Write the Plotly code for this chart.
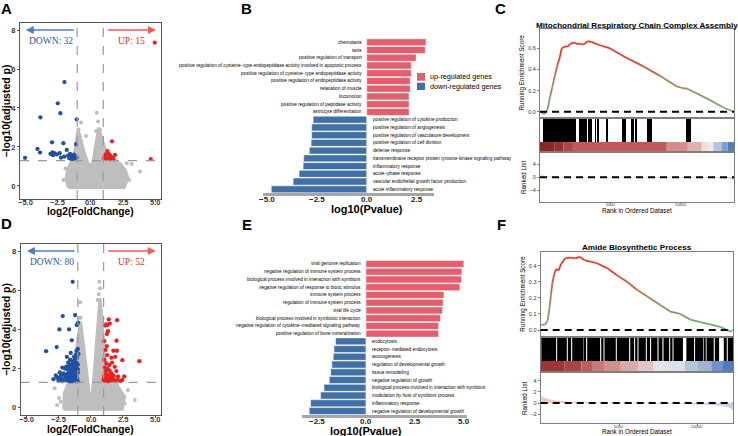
import plotly.graph_objects as go

W, H = 738, 436
FONT = "Liberation Sans, Arial, sans-serif"
SERIF = "Liberation Serif, Times New Roman, serif"

# ---------------- Panel A : volcano ----------------
A_cloud_x = [-1.7, -1.85, -1.75, -1.45, -1.2, -1.05, -0.95, -0.8, -0.5, -0.2, 0.0, 0.2, 0.4, 0.55, 0.65, 0.85, 1.0, 1.25, 1.8, 2.3, 2.7, 2.9, 2.6, -1.7]
A_cloud_y = [-0.08, 0.4, 0.8, 1.3, 1.7, 2.35, 2.85, 2.6, 1.8, 1.2, 1.0, 1.2, 1.9, 2.6, 3.0, 2.5, 2.2, 1.7, 1.35, 1.15, 0.8, 0.4, -0.08, -0.08]
A_gray_x = [0.5, 0.45, 0.75, -0.32, -0.7, 3.82, 2.8, 3.18, 2.34, 2.03, -2.06, -1.9, 0.6, -0.9, 3.0]
A_gray_y = [3.76, 2.82, 2.87, 2.56, 3.26, 0.74, 1.16, 1.13, 0.65, 0.39, 0.31, 0.9, 3.3, 2.9, 0.3]
A_down_x = [-1.98, -2.49, -2.29, -3.82, -1.04, -2.93, -2.06, -1.09, -4.05, -3.85, -5.0, -2.9, -2.75, -2.55, -2.35, -3.05,
            -2.85, -2.25, -1.8, -1.55, -1.5, -1.45, -1.35, -1.3, -1.25, -1.15, -1.6, -1.4, -2.0, -1.2, -1.05, -1.7]
A_down_y = [5.33, 4.24, 3.73, 3.52, 3.42, 2.24, 2.19, 2.15, 1.90, 1.71, 1.44, 1.72, 1.68, 1.62, 1.68, 1.65,
            1.58, 1.45, 1.85, 1.65, 1.5, 1.45, 1.52, 1.42, 1.6, 1.48, 1.42, 1.38, 1.5, 1.38, 1.45, 1.55]
A_up_x = [4.95, 1.67, 4.64, 1.19, 1.39, 1.52, 1.9, 1.06, 1.27, 1.57, 1.78, 1.14, 1.32, 1.7, 1.47]
A_up_y = [7.35, 2.29, 1.38, 1.62, 1.67, 1.57, 1.59, 1.42, 1.40, 1.37, 1.37, 1.54, 1.79, 1.47, 1.47]
A_counts = ["DOWN: 32", "UP: 15"]

# ---------------- Panel D : volcano ----------------
D_cloud_x = [-2.1, -2.05, -1.76, -1.37, -1.11, -0.98, -0.9, -0.8, -0.6, -0.34, -0.16, -0.04, 0.08, 0.2, 0.31, 0.46, 0.57, 0.64, 0.72, 0.82, 0.95, 1.03, 1.21, 1.86, 2.12, 2.63, 2.45, -2.1]
D_cloud_y = [-0.08, 0.73, 1.24, 2.1, 2.94, 3.62, 4.1, 4.4, 3.45, 2.1, 1.07, 0.25, 0.4, 1.2, 2.1, 3.45, 4.47, 5.3, 5.6, 4.9, 3.8, 2.94, 2.1, 1.58, 1.07, 0.56, -0.08, -0.08]
D_gray_x = [0.67, 0.72, 0.62, -0.83, -0.78, 0.55, -2.8, -2.46, -2.6, -2.33, 2.89, 2.63, 3.41, -0.9]
D_gray_y = [6.43, 6.1, 5.8, 5.38, 4.6, 5.5, 1.0, 0.5, 0.14, 0.31, 0.9, 0.22, 0.39, 4.6]
D_down_x = [-1.4, -1.21, -2.17, -0.98, -1.09, -2.43, -1.68, -1.47, -2.64, -3.46,
            -1.0, -1.1, -0.95, -1.15, -1.3, -1.05, -1.2, -1.6, -1.4, -1.1, -1.25, -1.5, -1.75, -1.0, -1.9,
            -1.35, -1.2, -1.05, -1.6, -1.45, -1.8, -2.0, -2.2, -1.15, -1.3, -1.0, -1.5, -1.7, -1.9, -2.1,
            -1.25, -1.4, -1.1, -2.4, -1.6, -1.05, -1.2, -1.35, -1.55, -1.75, -1.9, -2.05, -2.3, -2.6, -1.15,
            -1.45, -1.65, -2.2, -1.0, -2.5, -2.89, -2.43, -2.12, -2.7, -1.85, -1.55, -1.25, -1.1, -1.4, -1.6,
            -1.3, -1.05, -1.75, -1.95, -1.5, -1.2, -2.3, -1.7, -1.35, -1.0]
D_down_y = [6.43, 4.73, 4.68, 4.34, 4.22, 4.0, 4.0, 3.44, 3.1, 2.89,
            3.0, 2.9, 2.75, 2.7, 2.6, 2.55, 2.5, 2.45, 2.35, 2.3, 2.25, 2.2, 2.3, 2.2, 2.1,
            2.1, 2.05, 2.0, 2.0, 1.95, 1.95, 2.0, 2.05, 1.9, 1.85, 1.8, 1.75, 1.8, 1.7, 1.75,
            1.7, 1.65, 1.65, 1.8, 1.6, 1.5, 1.45, 1.5, 1.45, 1.5, 1.4, 1.5, 1.45, 1.55, 1.35,
            1.35, 1.35, 1.35, 1.35, 1.4, 1.46, 1.53, 1.7, 1.65, 2.6, 2.8, 1.55, 1.75, 1.8, 2.15,
            2.4, 2.65, 2.1, 1.55, 1.9, 1.95, 1.65, 1.65, 1.4, 1.95]
D_up_x = [1.40, 2.04, 1.29, 1.13, 1.48, 1.34, 1.26, 2.00, 1.75, 2.03, 2.45, 3.77, 1.28, 1.21, 1.45, 1.86, 1.99, 1.16,
          1.60, 1.35, 2.12, 1.03, 1.25, 1.55, 1.70, 2.45, 2.10, 1.10, 1.40, 1.85, 1.05, 1.20, 1.50, 1.30, 1.10, 1.65,
          1.15, 1.05, 1.20, 1.60, 1.35, 1.65, 1.95, 2.30, 1.00, 1.15, 1.45, 1.75, 1.05, 1.90, 2.60, 1.25]
D_up_y = [4.51, 4.47, 4.22, 4.20, 4.30, 3.91, 3.76, 3.42, 2.91, 2.91, 2.43, 2.38, 2.69, 2.26, 2.18, 2.09, 1.87, 1.84,
          1.76, 1.67, 1.59, 1.50, 1.45, 1.45, 1.50, 1.42, 1.42, 1.38, 1.38, 1.40, 1.62, 1.55, 1.60, 1.98, 2.05, 2.30,
          2.95, 3.40, 4.25, 2.55, 1.35, 1.37, 1.37, 1.37, 1.42, 1.70, 1.90, 1.65, 2.45, 2.60, 1.60, 3.15]
D_counts = ["DOWN: 80", "UP: 52"]

VOLC_TICKS = [-5, -2.5, 0, 2.5, 5]
VOLC_TICKTEXT = ["−5.0", "−2.5", "0.0", "2.5", "5.0"]

# ---------------- Panel B : GO bars ----------------
B_up_terms = ["chemotaxis", "taxis", "positive regulation of transport",
              "positive regulation of cysteine−type endopeptidase activity involved in apoptotic process",
              "positive regulation of cysteine−type endopeptidase activity",
              "positive regulation of endopeptidase activity", "relaxation of muscle", "locomotion",
              "positive regulation of peptidase activity", "astrocyte differentiation"]
B_up_vals = [2.97, 2.93, 2.47, 2.23, 2.23, 2.18, 2.18, 2.12, 2.12, 2.12]
B_down_terms = ["positive regulation of cytokine production", "positive regulation of angiogenesis",
                "positive regulation of vasculature development", "positive regulation of cell division",
                "defense response", "transmembrane receptor protein tyrosine kinase signaling pathway",
                "inflammatory response", "acute−phase response",
                "vascular endothelial growth factor production", "acute inflammatory response"]
B_down_vals = [-2.68, -2.75, -2.75, -2.78, -2.87, -3.15, -3.18, -3.38, -3.68, -4.77]
B_ticks = [-5, -2.5, 0, 2.5]
B_ticktext = ["−5.0", "−2.5", "0.0", "2.5"]

# ---------------- Panel E : GO bars ----------------
E_up_terms = ["viral genome replication", "negative regulation of immune system process",
              "biological process involved in interaction with symbiont",
              "negative regulation of response to biotic stimulus", "immune system process",
              "regulation of immune system process", "viral life cycle",
              "biological process involved in symbiotic interaction",
              "negative regulation of cytokine−mediated signaling pathway",
              "positive regulation of bone mineralization"]
E_up_vals = [4.97, 4.87, 4.85, 4.77, 3.96, 3.92, 3.89, 3.79, 3.69, 3.69]
E_down_terms = ["endocytosis", "receptor−mediated endocytosis", "axonogenesis",
                "regulation of developmental growth", "tissue remodeling", "negative regulation of growth",
                "biological process involved in interaction with symbiont",
                "modulation by host of symbiont process", "inflammatory response",
                "negative regulation of developmental growth"]
E_down_vals = [-1.54, -1.62, -1.66, -1.73, -1.79, -1.86, -2.13, -2.30, -2.81, -2.88]
E_ticks = [-2.5, 0, 2.5, 5]
E_ticktext = ["−2.5", "0.0", "2.5", "5.0"]

# ---------------- Panel C : GSEA ----------------
C_title = "Mitochondrial Respiratory Chain Complex Assembly"
C_es_rank = [0, 71, 309, 476, 666, 857, 1023, 1190, 1333, 1499, 1737, 1900, 2094, 2300, 2451, 2650, 2808, 3000,
             3165, 3356, 3641, 4236, 4950, 6140, 7330, 8520, 9710, 10100, 10424, 10900, 12090, 13042, 13756]
C_es = [-0.005, -0.01, -0.02, 0.015, 0.14, 0.25, 0.35, 0.44, 0.50, 0.60, 0.62, 0.615, 0.64, 0.655, 0.65, 0.64,
        0.645, 0.635, 0.645, 0.67, 0.66, 0.63, 0.60, 0.51, 0.43, 0.34, 0.24, 0.225, 0.22, 0.19, 0.11, 0.04, 0.0]
C_hits = [190, 240, 290, 330, 380, 420, 470, 520, 580, 620, 670, 720, 760, 810, 870, 910, 960, 1010, 1060,
          1120, 1170, 1220, 1280, 1330, 1380, 1440, 1500, 1560, 1610, 1714, 1807, 1902, 1974, 2071, 2164, 2260,
          2331, 2429, 2760, 2855, 2950, 3093, 3212, 3429, 3571, 3903, 4093, 4713, 5856, 6000, 6498, 6617, 6784,
          7617, 7736, 7855, 10428, 10500, 10666]
C_band_edges = [-50, 1000, 1617, 2300, 9000, 10500, 11500, 12000, 12330, 12900, 13350, 13800]
C_band_colors = ["#8E2828", "#9A3030", "#B54444", "#C45858", "#D48C8C", "#E3B0B0", "#F3DEDE",
                 "#E6EBF4", "#B2C5E2", "#7C9ED0", "#4E7DC0"]
C_rl_rank = [0, 150, 500, 1500, 4000, 7000, 10000, 12500, 13400, 13800]
C_rl_val = [0.9, 0.5, 0.25, 0.1, 0.03, 0.0, -0.05, -0.15, -0.35, -0.8]

# ---------------- Panel F : GSEA ----------------
F_title = "Amide Biosynthetic Process"
F_es_rank = [0, 256, 406, 534, 620, 705, 833, 962, 1111, 1261, 1539, 1859, 2180, 2458, 2757, 3141, 3569, 4210,
             4851, 5492, 6133, 6774, 7629, 8270, 8911, 9552, 10193, 10835, 11476, 11903, 12224]
F_es = [0.03, 0.035, 0.06, 0.145, 0.22, 0.29, 0.35, 0.38, 0.37, 0.41, 0.445, 0.45, 0.445, 0.455, 0.435, 0.425,
        0.415, 0.385, 0.34, 0.30, 0.25, 0.21, 0.155, 0.115, 0.10, 0.065, 0.05, 0.035, 0.02, 0.0, -0.01]
F_hit_runs = [(0, 950), (1015, 1635), (1700, 1910), (1980, 2700), (2770, 2870), (2940, 3770), (3840, 3985),
              (4050, 4775), (4840, 5630), (5700, 5950), (6015, 6165), (6230, 6700), (6765, 6970), (7040, 7445),
              (7515, 7765), (7835, 8195), (8260, 8410), (8475, 9080), (9300, 9795), (9860, 10375),
              (10445, 10525), (10595, 11055), (11125, 11400), (11700, 11890), (11955, 12290)]
F_band_edges = [-40, 1500, 2564, 3300, 4064, 5100, 6198, 7200, 8121, 9191, 10000, 10897, 11600, 12290]
F_band_colors = ["#9E3434", "#A84444", "#BA5E5E", "#C87878", "#D08F8F", "#DCAAAA", "#E3C4C4",
                 "#E6E3E8", "#DCE2EC", "#BAC6D8", "#9FB3D3", "#6F94CB", "#4F7DC0"]
F_rl_rank = [0, 150, 400, 800, 1500, 2500, 4000, 6000, 7500, 9000, 10500, 11500, 12000, 12290]
F_rl_val = [1.3, 1.0, 0.7, 0.45, 0.25, 0.12, 0.05, 0.0, -0.03, -0.1, -0.25, -0.45, -0.7, -1.2]
RANK_TICKS = [5000, 10000]
RANK_TICKTEXT = ["5000", "10000"]

# ---------------- colours ----------------
GRAY_PT = "#BEBEBE"
BLUE_PT = "#2250A3"
RED_PT = "#EE1F1F"
UP_BAR = "#E0606F"
DOWN_BAR = "#4170A6"


def dom_x(a, b):
    return [a / W, b / W]


def dom_y(top, bottom):
    return [1 - bottom / H, 1 - top / H]


fig = go.Figure()
annotations = []
shapes = []
layout_axes = {}


def paper_text(xpx, ypx, text, size, bold=False, color="black", **kw):
    d = dict(x=xpx / W, y=1 - ypx / H, xref="paper", yref="paper", text=("<b>%s</b>" % text) if bold else text,
             showarrow=False, xanchor="center", yanchor="middle",
             font=dict(family=FONT, size=size, color=color))
    d.update(kw)
    annotations.append(d)


def axis_ticktexts(xref, ypx, vals, texts, size, bold=False, color="black"):
    # tick labels placed under an axis at data positions
    for v, t in zip(vals, texts):
        annotations.append(dict(x=v, y=1 - ypx / H, xref=xref, yref="paper",
                                text=("<b>%s</b>" % t) if bold else t, showarrow=False,
                                xanchor="center", yanchor="middle",
                                font=dict(family=FONT, size=size, color=color)))


def frame_axis(**kw):
    base = dict(showline=True, mirror=True, linecolor="#7F7F7F", linewidth=1.2, showgrid=False,
                zeroline=False, ticks="", showticklabels=False)
    base.update(kw)
    return base


# ---------- volcano helper ----------
def volcano(ax, ay, xname, yname, xdom, ydom, xr, yr, cloud_x, cloud_y, gx, gy, dx, dy, ux, uy, counts,
            tick_ypx, title_ypx):
    fig.add_trace(go.Scatter(x=cloud_x, y=cloud_y, fill="toself", fillcolor=GRAY_PT, mode="lines",
                             line=dict(color=GRAY_PT, width=3), xaxis=ax, yaxis=ay, hoverinfo="skip",
                             showlegend=False))
    fig.add_trace(go.Scatter(x=gx, y=gy, mode="markers", marker=dict(color=GRAY_PT, size=4),
                             xaxis=ax, yaxis=ay, showlegend=False))
    fig.add_trace(go.Scatter(x=dx, y=dy, mode="markers", marker=dict(color=BLUE_PT, size=4.3),
                             xaxis=ax, yaxis=ay, showlegend=False))
    fig.add_trace(go.Scatter(x=ux, y=uy, mode="markers", marker=dict(color=RED_PT, size=4.3),
                             xaxis=ax, yaxis=ay, showlegend=False))
    tickf = dict(family=FONT, size=7.5, color="#3A3A3A", weight="bold")
    titf = dict(family=FONT, size=10.5, color="black", weight="bold")
    layout_axes[xname] = dict(domain=dom_x(*xdom), range=xr, anchor=ay, showline=True, mirror=True,
                              linecolor="#555555", linewidth=1, showgrid=False, zeroline=False,
                              tickvals=VOLC_TICKS, showticklabels=False, ticks="outside", ticklen=2,
                              tickcolor="#555555")
    layout_axes[yname] = dict(domain=dom_y(*ydom), range=yr, anchor=ax, showline=True, mirror=True,
                              linecolor="#555555", linewidth=1, showgrid=False, zeroline=False,
                              tickvals=[0, 2, 4, 6, 8], ticks="outside", ticklen=2, tickcolor="#555555",
                              tickfont=tickf,
                              title=dict(text="−log10(adjusted p)", standoff=3, font=titf))
    axis_ticktexts(ax, tick_ypx, VOLC_TICKS, VOLC_TICKTEXT, 7.5, bold=True, color="#3A3A3A")
    paper_text((xdom[0] + xdom[1]) / 2, title_ypx, "log2(FoldChange)", 10.2, bold=True)
    for xv in (-1, 1):
        shapes.append(dict(type="line", xref=ax, yref=ay + " domain", x0=xv, x1=xv, y0=0, y1=1,
                           line=dict(color="#9A9A9A", width=1.2, dash="dash")))
    shapes.append(dict(type="line", xref=ax + " domain", yref=ay, x0=0, x1=1, y0=1.3, y1=1.3,
                       line=dict(color="#9A9A9A", width=1.2, dash="dash")))
    annotations.append(dict(x=-4.95, y=8, ax=-1.15, ay=8, xref=ax, yref=ay, axref=ax, ayref=ay, text="",
                            showarrow=True, arrowhead=2, arrowsize=1, arrowwidth=1.6, arrowcolor="#4D7CC7"))
    annotations.append(dict(x=5.05, y=8, ax=1.25, ay=8, xref=ax, yref=ay, axref=ax, ayref=ay, text="",
                            showarrow=True, arrowhead=2, arrowsize=1, arrowwidth=1.6, arrowcolor="#F05A5A"))
    annotations.append(dict(x=-3.0, y=7.45, xref=ax, yref=ay, text=counts[0], showarrow=False,
                            font=dict(family=SERIF, size=9.5, color="#2C58A5")))
    annotations.append(dict(x=3.2, y=7.45, xref=ax, yref=ay, text=counts[1], showarrow=False,
                            font=dict(family=SERIF, size=9.5, color="#E8231F")))


volcano("x", "y", "xaxis", "yaxis", (20, 161), (23, 199), [-5.39, 5.43], [-0.67, 8.36],
        A_cloud_x, A_cloud_y, A_gray_x, A_gray_y, A_down_x, A_down_y, A_up_x, A_up_y, A_counts, 202.0, 211.6)
volcano("x6", "y6", "xaxis6", "yaxis6", (20.7, 161), (244, 415), [-5.43, 5.45], [-0.37, 8.36],
        D_cloud_x, D_cloud_y, D_gray_x, D_gray_y, D_down_x, D_down_y, D_up_x, D_up_y, D_counts, 419.4, 429.0)


# ---------- GO bar helper ----------
def go_bars(ax, ay, xname, yname, xdom, ydom, xr, ticks, ticktext, up_terms, up_vals, down_terms, down_vals,
            tick_ypx, title_ypx):
    pos_up = [19 - i for i in range(len(up_vals))]
    pos_down = [9 - i for i in range(len(down_vals))]
    fig.add_trace(go.Bar(x=up_vals, y=pos_up, orientation="h", width=0.9, marker=dict(color=UP_BAR,
                         line=dict(color="white", width=0.5)), xaxis=ax, yaxis=ay, showlegend=False))
    fig.add_trace(go.Bar(x=down_vals, y=pos_down, orientation="h", width=0.9, marker=dict(color=DOWN_BAR,
                         line=dict(color="white", width=0.5)), xaxis=ax, yaxis=ay, showlegend=False))
    for t, p in zip(up_terms, pos_up):
        annotations.append(dict(x=0, y=p, xref=ax, yref=ay, text=t, showarrow=False, xanchor="right",
                                xshift=-3, font=dict(family=FONT, size=4.7, color="black")))
    for t, p in zip(down_terms, pos_down):
        annotations.append(dict(x=0, y=p, xref=ax, yref=ay, text=t, showarrow=False, xanchor="left",
                                xshift=4, font=dict(family=FONT, size=4.7, color="black")))
    layout_axes[xname] = dict(domain=dom_x(*xdom), range=xr, anchor=ay, showline=True, linecolor="#A6A6A6",
                              linewidth=3, showgrid=False, zeroline=False, showticklabels=False, ticks="")
    layout_axes[yname] = dict(domain=dom_y(*ydom), range=[-0.5, 19.5], anchor=ax, visible=False)
    axis_ticktexts(ax, tick_ypx, ticks, ticktext, 8, bold=True, color="#222222")
    zero_px = xdom[0] + (0 - xr[0]) / (xr[1] - xr[0]) * (xdom[1] - xdom[0])
    paper_text(zero_px, title_ypx, "log10(Pvalue)", 11, bold=True)


go_bars("x2", "y2", "xaxis2", "yaxis2", (262.7, 434), (38.4, 193.2), [-5.2, 3.365], B_ticks, B_ticktext,
        B_up_terms, B_up_vals, B_down_terms, B_down_vals, 199.8, 209.2)
go_bars("x7", "y7", "xaxis7", "yaxis7", (301.7, 467), (260.1, 414.9), [-3.26, 5.13], E_ticks, E_ticktext,
        E_up_terms, E_up_vals, E_down_terms, E_down_vals, 421, 430.5)

# legend of B (drawn manually)
for (top, bot, col, txt) in [(73, 80.7, UP_BAR, "up-regulated genes"), (82.7, 90, DOWN_BAR, "down-regulated genes")]:
    shapes.append(dict(type="rect", xref="paper", yref="paper", x0=417 / W, x1=425 / W, y0=1 - bot / H,
                       y1=1 - top / H, fillcolor=col, line=dict(width=0)))
    paper_text(428, (top + bot) / 2, txt, 7.2, xanchor="left")


# ---------- GSEA helper ----------
def mix(c1, c2, t):
    return tuple(int(round(a + (b - a) * t)) for a, b in zip(c1, c2))


def es_color(v, vmax):
    t = max(0.0, min(1.0, v / vmax))
    green, mid, red = (104, 178, 122), (176, 128, 86), (232, 58, 46)
    c = mix(green, mid, t / 0.45) if t < 0.45 else mix(mid, red, min(1.0, (t - 0.45) / 0.4))
    return "rgb(%d,%d,%d)" % c


def gsea(axes, xdom, ydoms, xr, es_r, es_v, es_range, es_ticks, hits_x, hits_w, band_edges, band_cols,
         band_h, rl_r, rl_v, rl_range, rl_ticks, title, title_y, xtick_y, xtitle_y):
    (xa, ya), (xb, yb), (xc, yc) = axes
    vmax = max(es_v)
    for i in range(len(es_r) - 1):
        fig.add_trace(go.Scatter(x=es_r[i:i + 2], y=es_v[i:i + 2], mode="lines",
                                 line=dict(color=es_color((es_v[i] + es_v[i + 1]) / 2, vmax), width=1.8),
                                 xaxis=xa, yaxis=ya, hoverinfo="skip", showlegend=False))
    shapes.append(dict(type="line", xref=xa + " domain", yref=ya, x0=0, x1=1, y0=0, y1=0,
                       line=dict(color="black", width=2, dash="7px,5px")))
    fig.add_trace(go.Bar(x=hits_x, y=[1 - band_h] * len(hits_x), base=band_h, width=hits_w,
                         marker=dict(color="black", line=dict(width=0)), xaxis=xb, yaxis=yb, showlegend=False))
    cx = [(band_edges[i] + band_edges[i + 1]) / 2 for i in range(len(band_cols))]
    cw = [band_edges[i + 1] - band_edges[i] for i in range(len(band_cols))]
    fig.add_trace(go.Bar(x=cx, y=[band_h] * len(cx), base=0, width=cw,
                         marker=dict(color=band_cols, line=dict(width=0)), xaxis=xb, yaxis=yb,
                         showlegend=False))
    pr = [(r, v) for r, v in zip(rl_r, rl_v) if v >= 0]
    nr = [(r, v) for r, v in zip(rl_r, rl_v) if v <= 0]
    fig.add_trace(go.Scatter(x=[p[0] for p in pr], y=[p[1] for p in pr], fill="tozeroy",
                             fillcolor="#F6C6C2", mode="lines", line=dict(width=0.5, color="#F6C6C2"),
                             xaxis=xc, yaxis=yc, showlegend=False))
    fig.add_trace(go.Scatter(x=[p[0] for p in nr], y=[p[1] for p in nr], fill="tozeroy",
                             fillcolor="#C4D0EC", mode="lines", line=dict(width=0.5, color="#C4D0EC"),
                             xaxis=xc, yaxis=yc, showlegend=False))
    shapes.append(dict(type="line", xref=xc + " domain", yref=yc, x0=0, x1=1, y0=0, y1=0,
                       line=dict(color="black", width=2, dash="7px,5px")))
    tf = dict(family=FONT, size=5.5, color="#333333")
    ttl = dict(family=FONT, size=6.3, color="black")
    n = lambda a: "xaxis" + a[1:]
    m = lambda a: "yaxis" + a[1:]
    layout_axes[n(xa)] = frame_axis(domain=dom_x(*xdom), range=xr, anchor=ya)
    layout_axes[m(ya)] = frame_axis(domain=dom_y(*ydoms[0]), range=es_range, anchor=xa, showticklabels=True,
                                    tickvals=es_ticks, ticktext=["%.1f" % t for t in es_ticks],
                                    ticks="outside", ticklen=2, tickcolor="#7F7F7F", tickfont=tf,
                                    title=dict(text="Running Enrichment Score", font=ttl, standoff=2))
    layout_axes[n(xb)] = frame_axis(domain=dom_x(*xdom), range=xr, anchor=yb)
    layout_axes[m(yb)] = frame_axis(domain=dom_y(*ydoms[1]), range=[0, 1], anchor=xb)
    layout_axes[n(xc)] = frame_axis(domain=dom_x(*xdom), range=xr, anchor=yc, tickvals=RANK_TICKS,
                                    ticks="outside", ticklen=1.5, tickcolor="#7F7F7F")
    layout_axes[m(yc)] = frame_axis(domain=dom_y(*ydoms[2]), range=rl_range, anchor=xc, showticklabels=True,
                                    tickvals=rl_ticks, ticktext=[str(t).replace("-", "−") for t in rl_ticks],
                                    ticks="outside", ticklen=2, tickcolor="#7F7F7F", tickfont=tf,
                                    title=dict(text="Ranked List", font=ttl, standoff=2))
    axis_ticktexts(xc, xtick_y, RANK_TICKS, RANK_TICKTEXT, 4, color="#333333")
    cxp = (xdom[0] + xdom[1]) / 2
    paper_text(cxp, title_y, title, 8.1, bold=True)
    paper_text(cxp, xtitle_y, "Rank in Ordered Dataset", 6.3)


gsea([("x3", "y3"), ("x4", "y4"), ("x5", "y5")], (540, 734), [(29, 116.7), (119, 151), (153, 201.7)],
     [-50, 13800], C_es_rank, C_es, [-0.047, 0.784], [0, 0.2, 0.4, 0.6], C_hits, 50,
     C_band_edges, C_band_colors, 0.28, C_rl_rank, C_rl_val, [-7.5, 7.5], [-4, 0, 4], C_title, 26,
     204.6, 210.2)

F_hx = [(s + e) / 2 for s, e in F_hit_runs]
F_hw = [e - s for s, e in F_hit_runs]
gsea([("x8", "y8"), ("x9", "y9"), ("x10", "y10")], (540.7, 733), [(252.3, 335.7), (337.7, 371), (373.3, 423.3)],
     [-40, 12290], F_es_rank, F_es, [-0.035, 0.483], [0, 0.1, 0.2, 0.3, 0.4], F_hx, F_hw,
     F_band_edges, F_band_colors, 0.30, F_rl_rank, F_rl_val, [-3.6, 5.3], [-2, 0, 2, 4], F_title, 247,
     426.2, 431.8)

# panel letters
for letter, xpx, ypx in [("A", 6, 8), ("B", 246.5, 8), ("C", 500, 8), ("D", 6, 223), ("E", 246.7, 225), ("F", 501, 225)]:
    paper_text(xpx, ypx, letter, 15, bold=True)

fig.update_layout(width=W, height=H, margin=dict(l=0, r=0, t=0, b=0), paper_bgcolor="white",
                  plot_bgcolor="white", barmode="overlay", annotations=annotations, shapes=shapes,
                  showlegend=False, font=dict(family=FONT), **layout_axes)

fig.write_html("out.html")
